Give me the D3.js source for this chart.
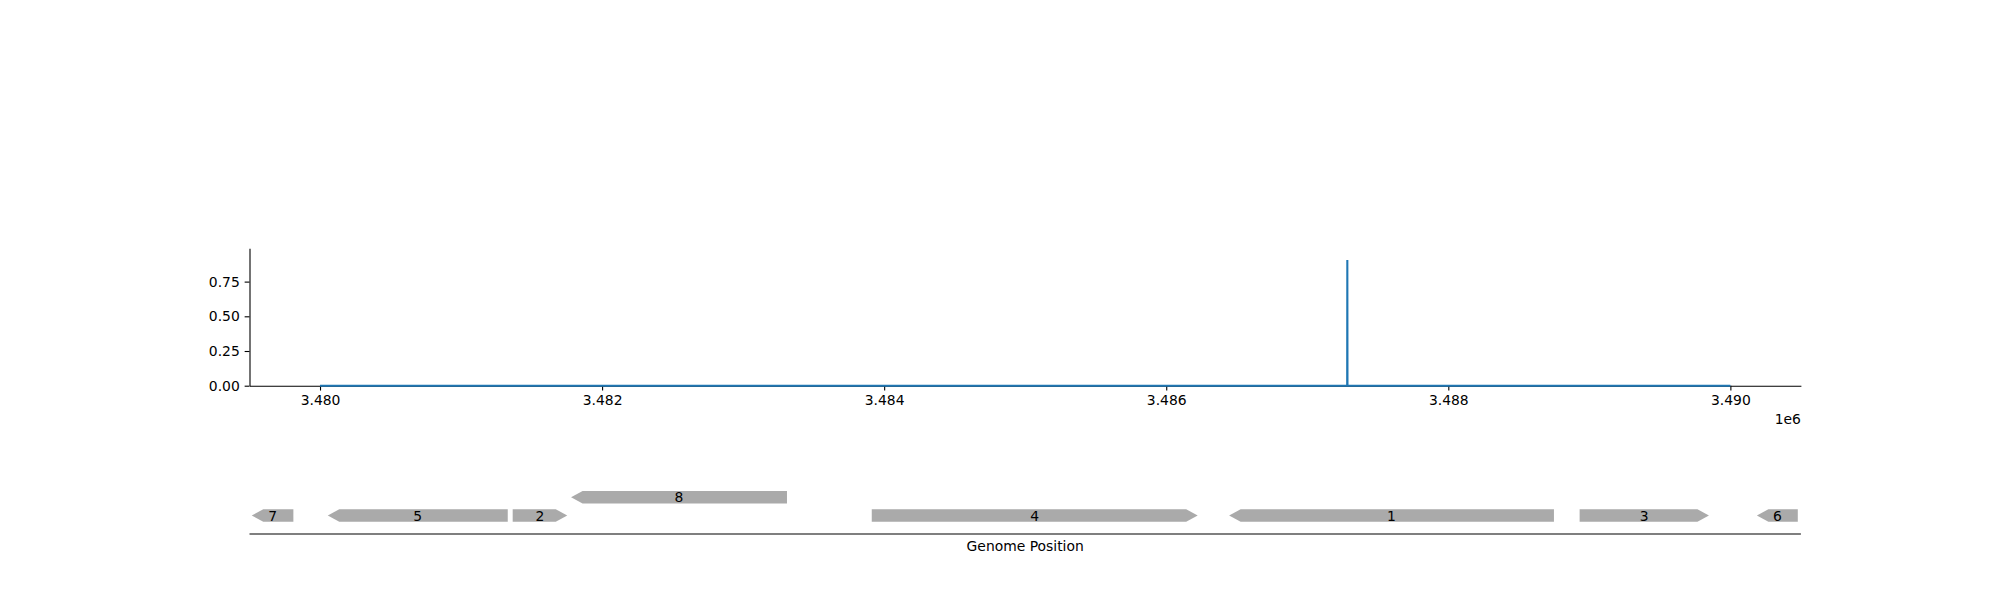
<!DOCTYPE html>
<html>
<head>
<meta charset="utf-8">
<script src="https://cdn.jsdelivr.net/npm/d3@7"></script>
<style>
  html, body { margin: 0; padding: 0; background: #fff; }
  svg { display: block; font-family: "DejaVu Sans", sans-serif; }
</style>
</head>
<body>
<svg id="chart" width="2000" height="600"></svg>
<script>
// ---- data ----
const positions = [3480000, 3487283, 3487284, 3487285, 3490000];
const coverage  = [0, 0, 0.905, 0, 0];
const xTicks = [3480000, 3482000, 3484000, 3486000, 3488000, 3490000];
const yTicks = [0, 0.25, 0.5, 0.75];
const geneNames   = ["7", "5", "2", "8", "4", "1", "3", "6"];
const geneStarts  = [3479516, 3480055, 3481366, 3481780, 3483912, 3486446, 3488931, 3490188];
const geneEnds    = [3479811, 3481331, 3481753, 3483311, 3486223, 3488749, 3489848, 3490478];
const geneStrands = [-1, -1, 1, -1, 1, -1, 1, -1];
const geneRows    = [0, 0, 0, 1, 0, 0, 0, 0];

// ---- layout ----
const svg = d3.select("#chart");
const left = 249.5, right = 1800.9;
const topY = 248.3, botY = 385.7;
const x = d3.scaleLinear().domain([3479500, 3490500]).range([left, right]);
const y = d3.scaleLinear().domain([0, 0.99]).range([botY, topY]);
const fontSize = 13.9;

// ---- top axes ----
const gx = svg.append("g").attr("transform", `translate(0,${botY})`)
  .call(d3.axisBottom(x).tickValues(xTicks).tickSize(4.86).tickSizeOuter(0).tickPadding(4.86)
    .tickFormat(d => (d / 1e6).toFixed(3)));
const gy = svg.append("g").attr("transform", `translate(${left},0)`)
  .call(d3.axisLeft(y).tickValues(yTicks).tickSize(4.86).tickSizeOuter(0).tickPadding(4.86)
    .tickFormat(d => d.toFixed(2)));
[gx, gy].forEach(g => {
  g.selectAll("text").attr("font-size", fontSize).attr("font-family", "DejaVu Sans").attr("fill", "#000");
  g.selectAll("line").attr("stroke", "#000").attr("stroke-width", 1.1);
  g.select(".domain").attr("stroke", "#000").attr("stroke-width", 1.1);
});
gx.selectAll("text").attr("dy", "0.71em");

svg.append("text").attr("x", right).attr("y", 424).attr("text-anchor", "end")
  .attr("font-size", fontSize).text("1e6");

// coverage line
const lineData = positions.map((p, i) => [p, coverage[i]]);
svg.append("path").datum(lineData)
  .attr("fill", "none").attr("stroke", "#1f77b4").attr("stroke-width", 2.08)
  .attr("d", d3.line().x(d => x(d[0])).y(d => y(d[1])));

// ---- gene track ----
const trackLineY = 534;
const rowCenter = r => 515.5 - r * 18.3;
const h = 12.4, head = 11.5;
svg.append("line").attr("x1", left).attr("x2", right).attr("y1", trackLineY).attr("y2", trackLineY)
  .attr("stroke", "#000").attr("stroke-width", 1.1);

const genes = geneNames.map((n, i) => ({ name: n, s: geneStarts[i], e: geneEnds[i], strand: geneStrands[i], row: geneRows[i] }));
const gg = svg.append("g");
genes.forEach(g => {
  const x0 = x(g.s), x1 = x(g.e), cy = rowCenter(g.row), t = cy - h / 2, b = cy + h / 2;
  let pts;
  if (g.strand > 0) {
    const hx = Math.max(x0, x1 - head);
    pts = [[x0, t], [hx, t], [x1, cy], [hx, b], [x0, b]];
  } else {
    const hx = Math.min(x1, x0 + head);
    pts = [[x0, cy], [hx, t], [x1, t], [x1, b], [hx, b]];
  }
  gg.append("polygon").attr("points", pts.map(p => p.join(",")).join(" "))
    .attr("fill", "#aaaaaa").attr("stroke", "none");
  gg.append("text").attr("x", (x0 + x1) / 2).attr("y", cy).attr("dy", "0.36em")
    .attr("text-anchor", "middle").attr("font-size", fontSize).attr("fill", "#000").text(g.name);
});

svg.append("text").attr("x", (left + right) / 2).attr("y", 551).attr("text-anchor", "middle")
  .attr("font-size", fontSize).text("Genome Position");
</script>
</body>
</html>
